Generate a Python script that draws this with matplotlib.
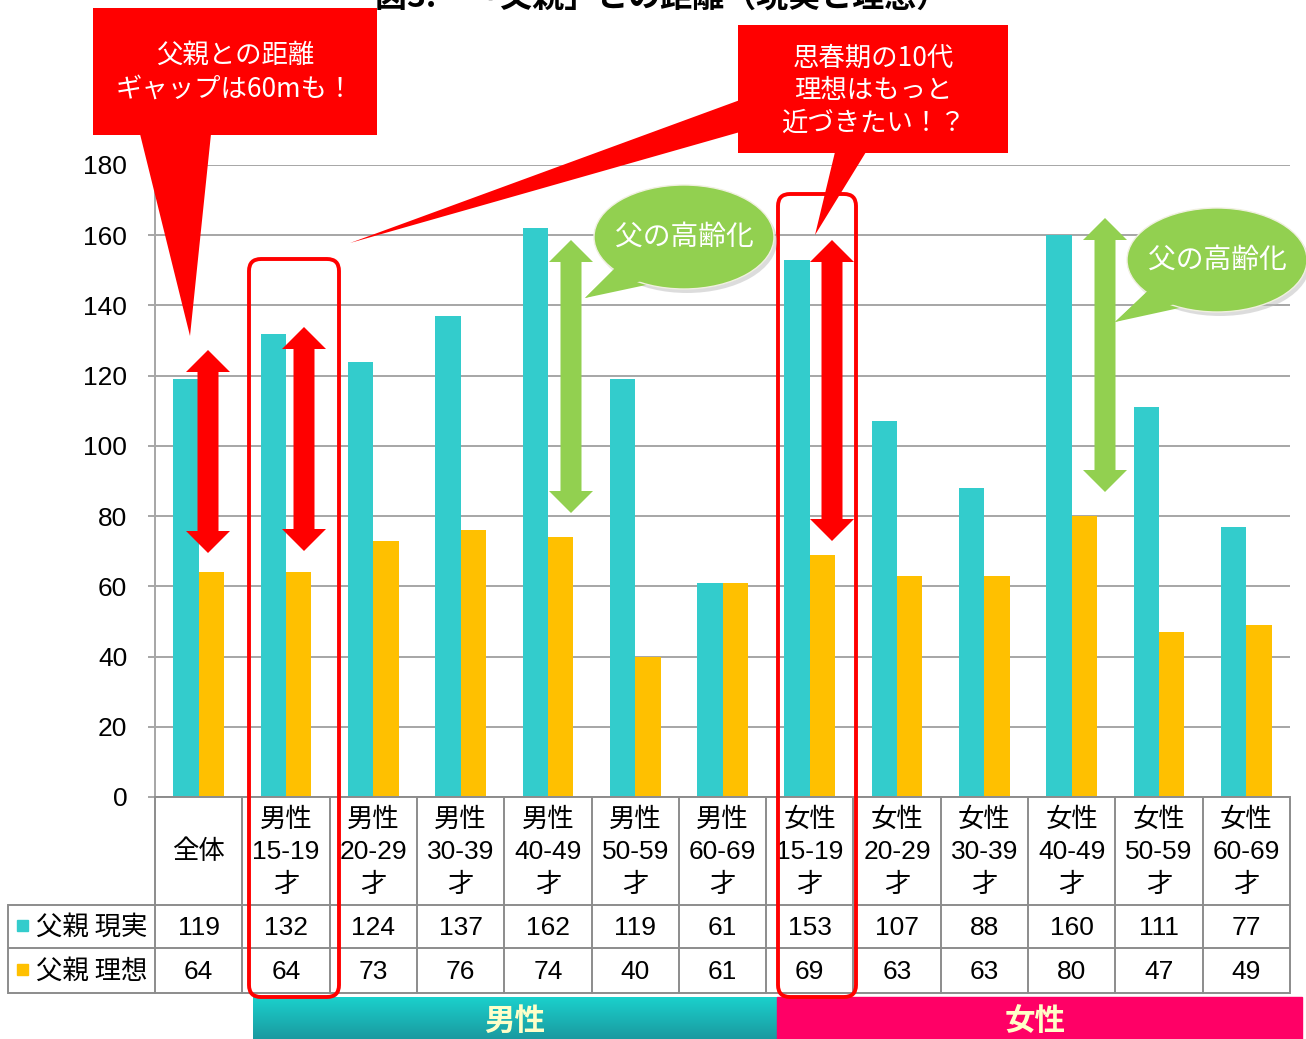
import numpy as np
import matplotlib
matplotlib.use("Agg")
import matplotlib.pyplot as plt
from matplotlib.patches import Rectangle, FancyBboxPatch, Polygon, Ellipse
from matplotlib.colors import LinearSegmentedColormap
import matplotlib.transforms as mtransforms

plt.rcParams['font.family'] = ['Liberation Sans', 'Noto Sans CJK JP', 'DejaVu Sans']

# ---------------- data ----------------
categories = ["全体", "男性\n15-19\n才", "男性\n20-29\n才", "男性\n30-39\n才", "男性\n40-49\n才",
              "男性\n50-59\n才", "男性\n60-69\n才", "女性\n15-19\n才", "女性\n20-29\n才",
              "女性\n30-39\n才", "女性\n40-49\n才", "女性\n50-59\n才", "女性\n60-69\n才"]
real = [119, 132, 124, 137, 162, 119, 61, 153, 107, 88, 160, 111, 77]
ideal = [64, 64, 73, 76, 74, 40, 61, 69, 63, 63, 80, 47, 49]
series_names = ["父親 現実", "父親 理想"]
yticks = [0, 20, 40, 60, 80, 100, 120, 140, 160, 180]
title = "図3.　「父親」との距離（現実と理想）"

TEAL = '#33CCCC'
YEL = '#FFC000'
RED = '#FF0000'
GREEN = '#92D050'
GRID = '#A6A6A6'
JP = ['Noto Sans CJK JP', 'DejaVu Sans']

W, H = 1306, 1039
fig = plt.figure(figsize=(W / 100, H / 100), dpi=100)

# main axes (pixel layout)
L, R, T, B = 155, 1290, 165, 797
ax = fig.add_axes([L / W, (H - B) / H, (R - L) / W, (B - T) / H])
x = np.arange(len(categories))
bw = 0.29
ax.bar(x - bw / 2, real, bw, color=TEAL, zorder=2)
ax.bar(x + bw / 2, ideal, bw, color=YEL, zorder=2)
ax.set_xlim(-0.5, len(categories) - 0.5)
ax.set_ylim(0, 180)
ax.set_yticks(yticks)
ax.set_yticklabels([str(v) for v in yticks], fontsize=19)
ax.set_xticks([])
ax.yaxis.grid(True, color=GRID, lw=1.4)
ax.set_axisbelow(True)
for s in ['top', 'right', 'bottom']:
    ax.spines[s].set_visible(False)
ax.spines['left'].set_color(GRID)
ax.spines['left'].set_linewidth(1.4)
ax.tick_params(axis='y', length=5, color=GRID, width=1.4, pad=15, labelcolor='black')
ax.patch.set_alpha(0)

# overlay in pixel coords
ov = fig.add_axes([0, 0, 1, 1], zorder=5)
ov.set_xlim(0, W)
ov.set_ylim(H, 0)
ov.axis('off')
ov.patch.set_alpha(0)
bt = mtransforms.blended_transform_factory(ax.transData, ov.transData)

# ---------------- table ----------------
lc = '#8C8C8C'
lw = 1.4
rows_y = [797, 905, 948, 993]
for yy in rows_y:
    x0 = L if yy == 797 else 8
    ov.plot([x0, R], [yy, yy], color=lc, lw=lw, solid_capstyle='butt')
ov.plot([8, 8], [905, 993], color=lc, lw=lw)
for i in range(len(categories) + 1):
    ov.plot([i - 0.5, i - 0.5], [797, 993], color=lc, lw=lw, transform=bt)

for i, c in enumerate(categories):
    ov.text(i, 852, c, ha='center', va='center', fontsize=19, linespacing=1.45, transform=bt)
    ov.text(i, 928, str(real[i]), ha='center', va='center', fontsize=19, transform=bt)
    ov.text(i, 972, str(ideal[i]), ha='center', va='center', fontsize=19, transform=bt)

for yy, col, name in [(927, TEAL, series_names[0]), (971, YEL, series_names[1])]:
    ov.add_patch(Rectangle((17, yy - 7), 11, 11, color=col))
    ov.text(36, yy, name, ha='left', va='center', fontsize=19, family=JP)

# bottom bands
cmap = LinearSegmentedColormap.from_list('t', ['#1BD0CC', '#1A9AA0'])
grad = np.linspace(0, 1, 50).reshape(-1, 1)
ov.imshow(grad, extent=[253, 777, 1039, 997], cmap=cmap, aspect='auto', zorder=1)
ov.add_patch(Rectangle((777, 997), 525, 42, color='#FF0066', zorder=1))
ov.text(515, 1021, "男性", ha='center', va='center', fontsize=22, fontweight='bold',
        color='#FFFFC8', family=JP, zorder=2)
ov.text(1035, 1021, "女性", ha='center', va='center', fontsize=22, fontweight='bold',
        color='#FFFFC8', family=JP, zorder=2)
ov.set_xlim(0, W)
ov.set_ylim(H, 0)

# red rounded rectangles
for (x0, y0, x1, y1) in [(249, 259, 339, 997), (778, 194, 856, 997)]:
    ov.add_patch(FancyBboxPatch((x0, y0), x1 - x0, y1 - y0,
                                boxstyle="round,pad=0,rounding_size=12",
                                fill=False, ec=RED, lw=2.8, zorder=6))


def darrow(cx, ytop, ybot, color, sw=10.5, hw=22, hl=22):
    pts = [(cx, ytop), (cx + hw, ytop + hl), (cx + sw, ytop + hl), (cx + sw, ybot - hl),
           (cx + hw, ybot - hl), (cx, ybot), (cx - hw, ybot - hl), (cx - sw, ybot - hl),
           (cx - sw, ytop + hl), (cx - hw, ytop + hl)]
    ov.add_patch(Polygon(pts, closed=True, color=color, zorder=7, lw=0))


darrow(208, 350, 553, RED)
darrow(304, 327, 551, RED)
darrow(832, 240, 541, RED)
darrow(571, 240, 513, GREEN)
darrow(1105, 218, 492, GREEN)

# red callouts
ov.add_patch(Rectangle((93, 8), 284, 127, color=RED, zorder=8, lw=0))
ov.add_patch(Polygon([(140, 134), (211, 134), (190, 336)], color=RED, zorder=8, lw=0))
ov.text(235, 72, "父親との距離\nギャップは60mも！", ha='center', va='center', fontsize=19,
        color='white', family=JP, linespacing=1.3, zorder=9)

ov.add_patch(Rectangle((738, 25), 270, 128, color=RED, zorder=8, lw=0))
ov.add_patch(Polygon([(740, 100), (740, 132), (350, 243)], color=RED, zorder=8, lw=0))
ov.add_patch(Polygon([(835, 152), (866, 152), (815, 235)], color=RED, zorder=8, lw=0))
ov.text(873, 91, "思春期の10代\n理想はもっと\n近づきたい！？", ha='center', va='center', fontsize=19,
        color='white', family=JP, linespacing=1.25, zorder=9)

# green bubbles


def bubble(cx, cy, tail, text):
    ov.add_patch(Ellipse((cx + 3, cy + 4), 180, 104, color='#BBBBBB', alpha=0.5, zorder=8, lw=0))
    ov.add_patch(Polygon(tail, color=GREEN, zorder=8.5, lw=0))
    ov.add_patch(Ellipse((cx, cy), 180, 104, fc=GREEN, ec='#F0F0E0', lw=1.0, zorder=9))
    ov.add_patch(Polygon([(tail[0][0] + 3, tail[0][1] - 4), (tail[1][0] - 2, tail[1][1] - 6),
                          tail[2]], color=GREEN, zorder=9.5, lw=0))
    ov.text(cx, cy, text, ha='center', va='center', fontsize=20, color='white', family=JP, zorder=10)


bubble(684, 237, [(622, 262), (660, 282), (585, 298)], "父の高齢化")
bubble(1217, 260, [(1155, 285), (1193, 305), (1115, 322)], "父の高齢化")

# title (clipped at the top of the canvas, as in the source image)
ov.text(662, -2, title, ha='center', va='center', fontsize=23, fontweight='bold',
        family=JP, zorder=10)

fig.savefig("out.png", dpi=100)
